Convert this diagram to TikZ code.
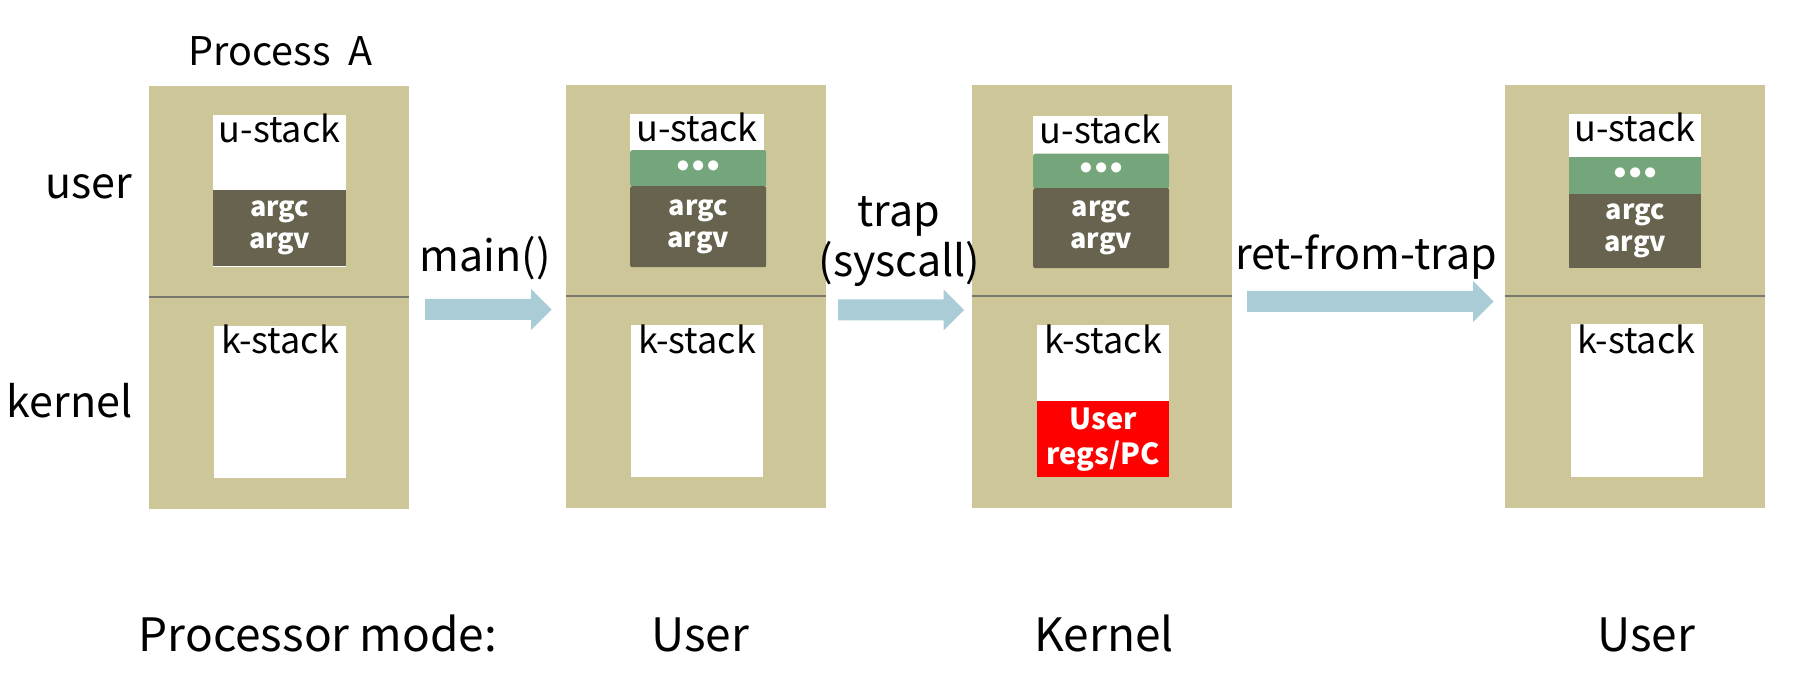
\documentclass[tikz,border=0pt]{standalone}
\usepackage{fontspec}
\setmainfont{Noto Sans CJK KR}
\newfontfamily\dotfont{DejaVu Sans}
\usetikzlibrary{calc}
\definecolor{tanbg}{HTML}{CDC699}
\definecolor{darkol}{HTML}{67634F}
\definecolor{greenst}{HTML}{75A57A}
\definecolor{arrowbl}{HTML}{A9CCD6}
\definecolor{divgray}{HTML}{78786C}
\newcommand\fs[1]{\fontsize{#1}{#1}\selectfont}
\newcommand\blkarrow[2]{%
  \fill[arrowbl] ($(#1)+(0,10.5)$) -- ($(#2)+(-20.5,10.5)$) -- ($(#2)+(-20.5,20.5)$) -- (#2)
    -- ($(#2)+(-20.5,-20.5)$) -- ($(#2)+(-20.5,-10.5)$) -- ($(#1)+(0,-10.5)$) -- cycle;}
\begin{document}
\begin{tikzpicture}[x=1pt,y=-1pt,
  procbox/.style={fill=tanbg,draw=none,minimum width=260pt,minimum height=423pt,inner sep=0pt,anchor=north west},
  whitebox/.style={fill=white,draw=none,inner sep=0pt,anchor=north west},
  greenbox/.style={fill=greenst,draw=none,inner sep=0pt,anchor=north west,rounded corners=2pt,text=white},
  darkbox/.style={fill=darkol,draw=none,inner sep=0pt,anchor=north west,rounded corners=2pt,text=white,font=\fontsize{27}{32}\selectfont\bfseries,align=center},
  redbox/.style={fill=red,draw=none,inner sep=0pt,anchor=north west,text=white,font=\fontsize{29}{35}\selectfont\bfseries,align=center},
  divider/.style={draw=divgray,line width=2pt},
  lbl/.style={inner sep=0pt,anchor=base},
  stacklbl/.style={lbl,font=\fs{36}},
  biglbl/.style={lbl,font=\fs{43}},
  modelbl/.style={lbl,font=\fs{46}},
  dots/.style={inner sep=0pt,text=white,font=\dotfont\fs{28.6}\bfseries}
]
\useasboundingbox (0,0) rectangle (1794,692);
% process boxes
\node[procbox] (pA) at (149,85.5) {};
\node[procbox] (pB) at (566,85) {};
\node[procbox] (pC) at (972,85) {};
\node[procbox] (pD) at (1505,85) {};
\foreach \p in {pA,pB,pC,pD}{
  \draw[divider] ($(\p.north west)+(0,211.5)$) -- ($(\p.north east)+(0,211.5)$);
}
% box A stacks
\node[whitebox,minimum width=133pt,minimum height=152pt] (uA) at (213,115) {};
\node[darkbox,minimum width=133pt,minimum height=76pt,rounded corners=0pt] (aA) at (213,190) {argc\\argv};
\node[stacklbl] (uAl) at (279.5,142.5) {u-stack};
\node[whitebox,minimum width=132pt,minimum height=152pt] (kA) at (214,326) {};
\node[stacklbl] (kAl) at (280,354) {k-stack};
% box B stacks
\node[whitebox,minimum width=134pt,minimum height=40pt] (uB) at (630,114) {};
\node[greenbox,minimum width=136pt,minimum height=36pt] (gB) at (630,150) {};
\node[dots] at (gB.center) {•\kern-3.2pt•\kern-3.2pt•};
\node[darkbox,minimum width=136pt,minimum height=81pt] (aB) at (630,186) {argc\\argv};
\node[stacklbl] (uBl) at (697,141.7) {u-stack};
\node[whitebox,minimum width=132pt,minimum height=152pt] (kB) at (631,325) {};
\node[stacklbl] (kBl) at (697,354) {k-stack};
% box C stacks
\node[whitebox,minimum width=135pt,minimum height=40pt] (uC) at (1033,116) {};
\node[greenbox,minimum width=136pt,minimum height=34.5pt] (gC) at (1033,153.5) {};
\node[dots] at (gC.center) {•\kern-3.2pt•\kern-3.2pt•};
\node[darkbox,minimum width=136pt,minimum height=80pt] (aC) at (1033,188) {argc\\argv};
\node[stacklbl] (uCl) at (1100.5,143.3) {u-stack};
\node[whitebox,minimum width=132pt,minimum height=152pt] (kC) at (1037,325) {};
\node[redbox,minimum width=132pt,minimum height=76pt] (rC) at (1037,401) {User\\regs/PC};
\node[stacklbl] (kCl) at (1103,354) {k-stack};
% box D stacks
\node[whitebox,minimum width=132pt,minimum height=45pt] (uD) at (1569,114) {};
\node[greenbox,minimum width=132pt,minimum height=37.5pt,rounded corners=0pt] (gD) at (1569,156.5) {};
\node[dots] at (gD.center) {•\kern-3.2pt•\kern-3.2pt•};
\node[darkbox,minimum width=132pt,minimum height=74pt,rounded corners=0pt] (aD) at (1569,194) {argc\\argv};
\node[stacklbl] (uDl) at (1635,141.7) {u-stack};
\node[whitebox,minimum width=132pt,minimum height=153pt] (kD) at (1570.5,324) {};
\node[stacklbl] (kDl) at (1636.5,354) {k-stack};
% labels
\node[lbl,font=\fs{39.5}] (title) at (280.5,65.7) {Process\ \ A};
\node[biglbl] (user) at (89,199) {user};
\node[biglbl] (kernel) at (69.5,417.7) {kernel};
\node[biglbl] (mainl) at (485,271.7) {main()};
\node[biglbl] (trapl) at (899,226.7) {trap};
\node[biglbl] (sysl) at (899.5,276.7) {(syscall)};
\node[biglbl] (retl) at (1366,270) {ret-from-trap};
\node[modelbl] (pm) at (318,651) {Processor mode:};
\node[modelbl] (m1) at (700,651) {User};
\node[modelbl] (m2) at (1104,651) {Kernel};
\node[modelbl] (m3) at (1646,651) {User};
% arrows
\coordinate (a1s) at (425,309.5); \coordinate (a1e) at (551.5,309.5);
\coordinate (a2s) at (838,310); \coordinate (a2e) at (964,310);
\coordinate (a3s) at (1247,301.5); \coordinate (a3e) at (1493.5,301.5);
\blkarrow{a1s}{a1e}
\blkarrow{a2s}{a2e}
\blkarrow{a3s}{a3e}
\end{tikzpicture}
\end{document}
